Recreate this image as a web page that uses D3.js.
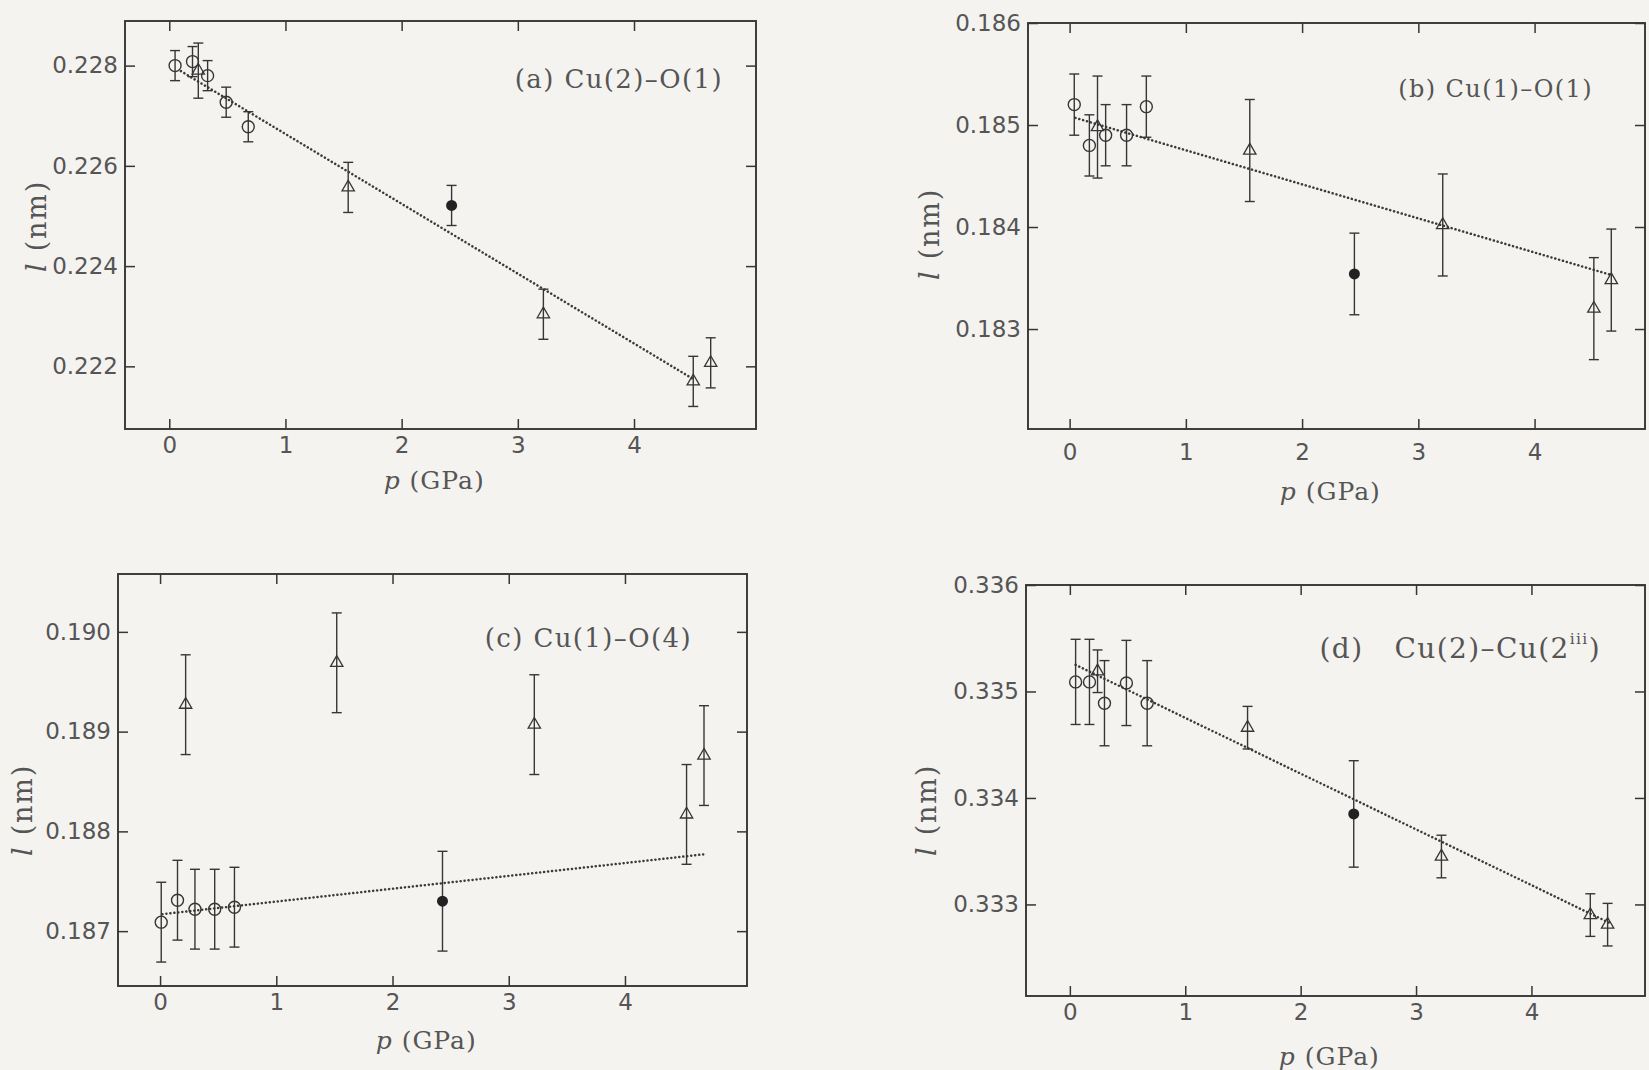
<!DOCTYPE html>
<html>
<head>
<meta charset="utf-8">
<script src="https://cdn.jsdelivr.net/npm/d3@7"></script>
<style>
  html, body { margin: 0; padding: 0; background: #f4f3f0; }
  svg { display: block; }
  .serif { font-family: "DejaVu Serif", serif; fill: #555; }
</style>
</head>
<body>
<svg id="chart" width="1649" height="1070"></svg>
<script>
// Bond lengths l (nm) versus pressure p (GPa).
// Each entry: [p, l, half error bar]

// (a) Cu(2)-O(1)
const aCircles   = [[0.05, 0.22800, 0.0003], [0.20, 0.22808, 0.0003], [0.33, 0.22780, 0.0003], [0.49, 0.22727, 0.0003], [0.68, 0.22678, 0.0003]];
const aTriangles = [[0.25, 0.22790, 0.00055], [1.54, 0.22557, 0.0005], [3.22, 0.22304, 0.0005], [4.51, 0.22170, 0.0005], [4.66, 0.22207, 0.0005]];
const aFilled    = [[2.43, 0.22521, 0.0004]];
const aFit       = [[0.10, 0.22789], [4.50, 0.22176]];
const aTicksY    = [0.222, 0.224, 0.226, 0.228];

// (b) Cu(1)-O(1)
const bCircles   = [[0.04, 0.18520, 0.0003], [0.17, 0.18480, 0.0003], [0.31, 0.18490, 0.0003], [0.49, 0.18490, 0.0003], [0.66, 0.18518, 0.0003]];
const bTriangles = [[0.24, 0.18498, 0.0005], [1.55, 0.18475, 0.0005], [3.21, 0.18402, 0.0005], [4.51, 0.18320, 0.0005], [4.66, 0.18348, 0.0005]];
const bFilled    = [[2.45, 0.18354, 0.0004]];
const bFit       = [[0.05, 0.18507], [4.66, 0.18353]];
const bTicksY    = [0.183, 0.184, 0.185, 0.186];

// (c) Cu(1)-O(4)
const cCircles   = [[0.01, 0.18709, 0.0004], [0.15, 0.18731, 0.0004], [0.30, 0.18722, 0.0004], [0.47, 0.18722, 0.0004], [0.64, 0.18724, 0.0004]];
const cTriangles = [[0.22, 0.18927, 0.0005], [1.52, 0.18969, 0.0005], [3.22, 0.18907, 0.0005], [4.53, 0.18817, 0.0005], [4.68, 0.18876, 0.0005]];
const cFilled    = [[2.43, 0.18730, 0.0005]];
const cFit       = [[0.02, 0.18717], [4.68, 0.18777]];
const cTicksY    = [0.187, 0.188, 0.189, 0.190];

// (d) Cu(2)-Cu(2iii)
const dCircles   = [[0.05, 0.33509, 0.0004], [0.17, 0.33509, 0.0004], [0.30, 0.33489, 0.0004], [0.49, 0.33508, 0.0004], [0.67, 0.33489, 0.0004]];
const dTriangles = [[0.24, 0.33519, 0.0002], [1.54, 0.33466, 0.0002], [3.22, 0.33345, 0.0002], [4.51, 0.33290, 0.0002], [4.66, 0.33281, 0.0002]];
const dFilled    = [[2.46, 0.33385, 0.0005]];
const dFit       = [[0.05, 0.33525], [4.67, 0.33283]];
const dTicksY    = [0.333, 0.334, 0.335, 0.336];

const ticksX = [0, 1, 2, 3, 4];

const svg = d3.select("#chart");
const ink = "#363636";

function styleAxis(sel) {
  sel.attr("font-size", null).attr("font-family", null);
  sel.selectAll(".domain").remove();
  sel.selectAll(".tick line").attr("stroke", ink).attr("stroke-width", 1.5);
  sel.selectAll(".tick text")
    .style("font-family", "'DejaVu Sans', sans-serif")
    .style("font-size", "23px")
    .style("fill", "#555");
}

function panel(opt) {
  const w = opt.x1 - opt.x0, h = opt.y1 - opt.y0;
  const x = d3.scaleLinear().domain(opt.px).range([0, w]);
  const y = d3.scaleLinear().domain(opt.ly).range([h, 0]);
  const g = svg.append("g").attr("transform", `translate(${opt.x0},${opt.y0})`);

  // axes with inward ticks on all four sides
  g.append("g").attr("transform", `translate(0,${h})`)
    .call(d3.axisBottom(x).tickValues(ticksX).tickFormat(d3.format("d"))
      .tickSizeInner(-10).tickSizeOuter(0).tickPadding(opt.xPad))
    .call(styleAxis);
  g.append("g")
    .call(d3.axisTop(x).tickValues(ticksX).tickFormat("").tickSizeInner(-10).tickSizeOuter(0))
    .call(styleAxis);
  g.append("g")
    .call(d3.axisLeft(y).tickValues(opt.ticksY).tickFormat(d3.format(".3f"))
      .tickSizeInner(-10).tickSizeOuter(0).tickPadding(7))
    .call(styleAxis);
  g.append("g").attr("transform", `translate(${w},0)`)
    .call(d3.axisRight(y).tickValues(opt.ticksY).tickFormat("").tickSizeInner(-10).tickSizeOuter(0))
    .call(styleAxis);

  g.append("rect").attr("width", w).attr("height", h)
    .attr("fill", "none").attr("stroke", ink).attr("stroke-width", 1.9);

  // fitted line
  g.append("path")
    .datum(opt.fit)
    .attr("d", d3.line().x(d => x(d[0])).y(d => y(d[1])))
    .attr("fill", "none").attr("stroke", "#3a3a3a").attr("stroke-width", 2.5)
    .attr("stroke-linecap", "round").attr("stroke-dasharray", "0.1,3.9");

  // error bars
  const all = opt.circles.concat(opt.triangles, opt.filled);
  const eb = g.append("g").attr("stroke", ink).attr("stroke-width", 1.4).attr("fill", "none");
  eb.selectAll("line.v").data(all).join("line")
    .attr("x1", d => x(d[0])).attr("x2", d => x(d[0]))
    .attr("y1", d => y(d[1] - d[2])).attr("y2", d => y(d[1] + d[2]));
  eb.selectAll("line.t").data(all).join("line")
    .attr("x1", d => x(d[0]) - 5).attr("x2", d => x(d[0]) + 5)
    .attr("y1", d => y(d[1] + d[2])).attr("y2", d => y(d[1] + d[2]));
  eb.selectAll("line.b").data(all).join("line")
    .attr("x1", d => x(d[0]) - 5).attr("x2", d => x(d[0]) + 5)
    .attr("y1", d => y(d[1] - d[2])).attr("y2", d => y(d[1] - d[2]));

  // open circles
  g.append("g").selectAll("circle").data(opt.circles).join("circle")
    .attr("cx", d => x(d[0])).attr("cy", d => y(d[1])).attr("r", 6)
    .attr("fill", "none").attr("stroke", ink).attr("stroke-width", 1.4);

  // open triangles
  const tri = d3.symbol().type(d3.symbolTriangle).size(66);
  g.append("g").selectAll("path").data(opt.triangles).join("path")
    .attr("transform", d => `translate(${x(d[0])},${y(d[1])})`)
    .attr("d", tri)
    .attr("fill", "none").attr("stroke", ink).attr("stroke-width", 1.3);

  // filled circle
  g.append("g").selectAll("circle").data(opt.filled).join("circle")
    .attr("cx", d => x(d[0])).attr("cy", d => y(d[1])).attr("r", 5.5)
    .attr("fill", "#222");

  // axis titles
  const xt = g.append("text").attr("class", "serif")
    .attr("x", w * opt.xLabelFrac).attr("y", h + opt.xLabelDy)
    .attr("text-anchor", "middle").attr("font-size", 25).attr("letter-spacing", 1);
  xt.append("tspan").attr("font-style", "italic").text("p");
  xt.append("tspan").text(" (GPa)");

  const yt = g.append("text").attr("class", "serif")
    .attr("transform", `translate(${opt.yLabelX},${opt.yLabelY}) rotate(-90)`)
    .attr("text-anchor", "middle").attr("font-size", 27).attr("letter-spacing", 1.8);
  yt.append("tspan").attr("font-style", "italic").text("l");
  yt.append("tspan").text(" (nm)");

  // panel title
  const tt = g.append("text").attr("class", "serif")
    .attr("x", opt.titleX).attr("y", opt.titleY)
    .attr("text-anchor", "end").attr("font-size", opt.titleSize).attr("letter-spacing", 1.4)
    .style("white-space", "pre");
  opt.title.forEach(part => {
    const s = tt.append("tspan").text(part.t);
    if (part.sup) s.attr("font-size", opt.titleSize * 0.55).attr("dy", -opt.titleSize * 0.5);
    if (part.down) s.attr("dy", opt.titleSize * 0.5);
  });
}

panel({
  x0: 125, x1: 756, y0: 21, y1: 429,
  px: [-0.381, 5.05], ly: [0.22075, 0.22889], ticksY: aTicksY,
  circles: aCircles, triangles: aTriangles, filled: aFilled, fit: aFit,
  title: [{t: "(a) Cu(2)–O(1)"}], titleX: 598, titleY: 67, titleSize: 26,
  xPad: 8, xLabelFrac: 0.49, xLabelDy: 60, yLabelX: -79, yLabelY: 205
});

panel({
  x0: 1028, x1: 1645, y0: 23, y1: 429,
  px: [-0.358, 4.95], ly: [0.18202, 0.186], ticksY: bTicksY,
  circles: bCircles, triangles: bTriangles, filled: bFilled, fit: bFit,
  title: [{t: "(b) Cu(1)–O(1)"}], titleX: 565, titleY: 74, titleSize: 24,
  xPad: 15, xLabelFrac: 0.49, xLabelDy: 71, yLabelX: -89, yLabelY: 211
});

panel({
  x0: 118, x1: 747, y0: 574, y1: 986,
  px: [-0.362, 5.05], ly: [0.18645, 0.19058], ticksY: cTicksY,
  circles: cCircles, triangles: cTriangles, filled: cFilled, fit: cFit,
  title: [{t: "(c) Cu(1)–O(4)"}], titleX: 574, titleY: 73, titleSize: 26,
  xPad: 8, xLabelFrac: 0.49, xLabelDy: 63, yLabelX: -86, yLabelY: 236
});

panel({
  x0: 1026, x1: 1645, y0: 585, y1: 996,
  px: [-0.38, 4.984], ly: [0.33214, 0.336], ticksY: dTicksY,
  circles: dCircles, triangles: dTriangles, filled: dFilled, fit: dFit,
  title: [{t: "(d)   Cu(2)–Cu(2"}, {t: "iii", sup: true}, {t: ")", down: true}], titleX: 575, titleY: 73, titleSize: 28,
  xPad: 8, xLabelFrac: 0.49, xLabelDy: 69, yLabelX: -90, yLabelY: 225
});
</script>
</body>
</html>
